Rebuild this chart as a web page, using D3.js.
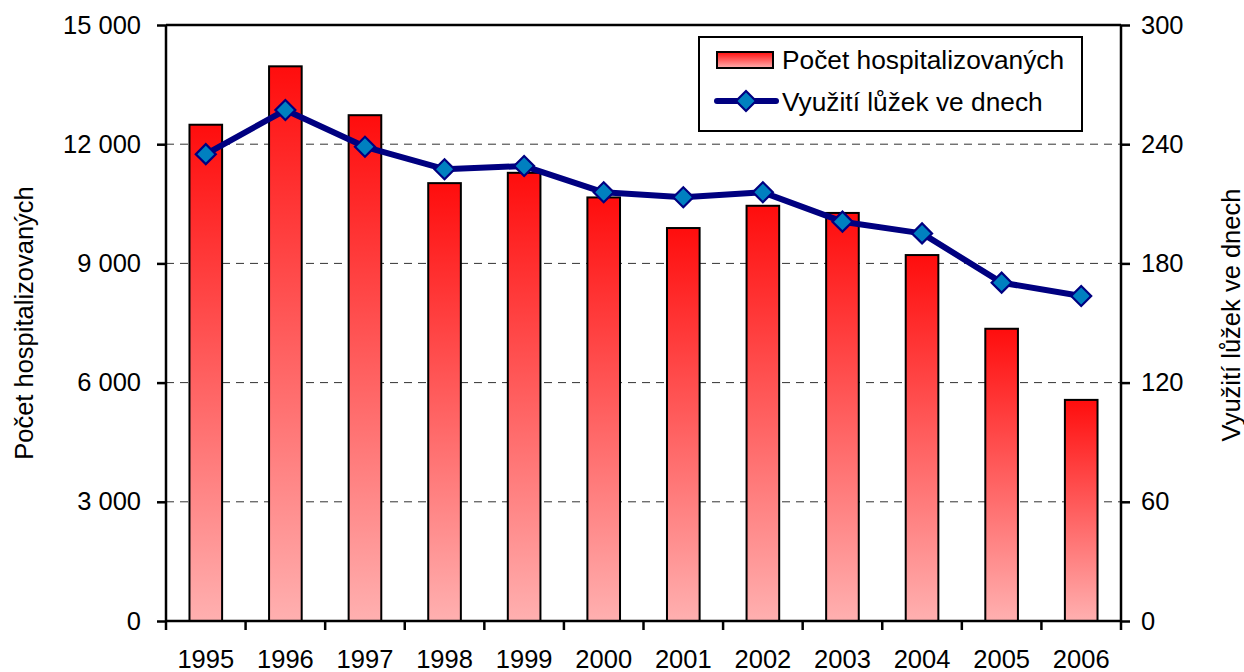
<!DOCTYPE html>
<html><head><meta charset="utf-8">
<script src="https://cdn.jsdelivr.net/npm/d3@7"></script>
<style>body{margin:0;background:#fff}svg{display:block;font-family:"Liberation Sans",Arial,sans-serif}</style>
</head><body><svg id="c" width="1244" height="672"></svg>
<script>
const years = ["1995","1996","1997","1998","1999","2000","2001","2002","2003","2004","2005","2006"];
const hospitalized = [12490, 13960, 12730, 11020, 11280, 10660, 9890, 10450, 10270, 9210, 7355, 5565];
const bedDays = [235, 257.2, 238.7, 227.4, 229, 215.8, 213.3, 215.8, 201, 195.1, 170.3, 163.6];
const leftTicks = [0, 3000, 6000, 9000, 12000, 15000];
const rightTicks = [0, 60, 120, 180, 240, 300];
const seriesNames = ["Počet hospitalizovaných", "Využití lůžek ve dnech"];
const axisTitles = ["Počet hospitalizovaných", "Využití lůžek ve dnech"];

const svg = d3.select("#c");
const L = 166, R = 1121, T = 25, B = 621;
const x = d3.scaleBand().domain(years).range([L, R]).paddingInner(0.59).paddingOuter(0.295);
const xb = d3.scaleBand().domain(years).range([L, R]);
const yL = d3.scaleLinear().domain([0, 15000]).range([B, T]);
const yR = d3.scaleLinear().domain([0, 300]).range([B, T]);
const fmt = d => d3.format(",")(d).replace(/,/g, " ");

const defs = svg.append("defs");
const g = defs.append("linearGradient").attr("id", "bg").attr("x1", 0).attr("y1", 0).attr("x2", 0).attr("y2", 1);
g.append("stop").attr("offset", 0).attr("stop-color", "#ff0d0d");
g.append("stop").attr("offset", 1).attr("stop-color", "#ffb0b0");

// grid
svg.append("g").selectAll("line").data(leftTicks.filter(d => d > 0 && d < 15000)).join("line")
  .attr("x1", L).attr("x2", R).attr("y1", d => yL(d)).attr("y2", d => yL(d))
  .attr("stroke", "#333").attr("stroke-width", 1).attr("stroke-dasharray", "8,6");

// bars
svg.append("g").selectAll("rect").data(years).join("rect")
  .attr("x", d => x(d)).attr("width", x.bandwidth())
  .attr("y", (d, i) => yL(hospitalized[i])).attr("height", (d, i) => B - yL(hospitalized[i]))
  .attr("fill", "url(#bg)").attr("stroke", "#000").attr("stroke-width", 2);

// axes
const fs = 25.5;
const leftAxis = svg.append("g").attr("transform", `translate(${L},0)`)
  .call(d3.axisLeft(yL).tickValues(leftTicks).tickFormat(fmt).tickSize(9).tickPadding(16));
const rightAxis = svg.append("g").attr("transform", `translate(${R},0)`)
  .call(d3.axisRight(yR).tickValues(rightTicks).tickSize(9).tickPadding(11));
const bottomAxis = svg.append("g").attr("transform", `translate(0,${B})`)
  .call(d3.axisBottom(xb).tickSize(0).tickPadding(29));
[leftAxis, rightAxis, bottomAxis].forEach(a => {
  a.attr("font-size", fs).attr("font-family", "Liberation Sans, Arial, sans-serif");
  a.select(".domain").attr("stroke", "#000").attr("stroke-width", 2.5);
  a.selectAll(".tick line").attr("stroke", "#000").attr("stroke-width", 2.5);
  a.selectAll("text").attr("fill", "#000");
});
leftAxis.select(".domain").attr("d", `M0,${B}V${T}`);
rightAxis.select(".domain").attr("d", `M0,${B}V${T}`);
bottomAxis.select(".domain").attr("d", `M${L},0H${R}`);
// category boundary ticks
svg.append("g").selectAll("line").data(d3.range(years.length + 1)).join("line")
  .attr("x1", i => L + i * xb.step()).attr("x2", i => L + i * xb.step())
  .attr("y1", B).attr("y2", B + 9).attr("stroke", "#000").attr("stroke-width", 2.5);
// top border
svg.append("line").attr("x1", L).attr("x2", R).attr("y1", T).attr("y2", T).attr("stroke", "#000").attr("stroke-width", 2.5);

// line
const cx = d => xb(d) + xb.bandwidth() / 2;
svg.append("path").datum(years)
  .attr("d", d3.line().x(d => cx(d)).y((d, i) => yR(bedDays[i])))
  .attr("fill", "none").attr("stroke", "#000080").attr("stroke-width", 6).attr("stroke-linejoin", "round");
const dia = d3.symbol().type(d3.symbolSquare).size(200);
svg.append("g").selectAll("path").data(years).join("path")
  .attr("d", dia)
  .attr("transform", (d, i) => `translate(${cx(d)},${yR(bedDays[i])}) rotate(45)`)
  .attr("fill", "#0080c0").attr("stroke", "#000080").attr("stroke-width", 2.2);

// axis titles
svg.append("text").attr("transform", `translate(33,${(T + B) / 2}) rotate(-90)`)
  .attr("text-anchor", "middle").attr("font-size", fs).text(axisTitles[0]);
svg.append("text").attr("transform", `translate(1240,${(T + B) / 2 - 8}) rotate(-90)`)
  .attr("text-anchor", "middle").attr("font-size", fs).text(axisTitles[1]);

// legend
const lg = svg.append("g");
lg.append("rect").attr("x", 699).attr("y", 37).attr("width", 383).attr("height", 94)
  .attr("fill", "#fff").attr("stroke", "#000").attr("stroke-width", 2);
lg.append("rect").attr("x", 717).attr("y", 52).attr("width", 56).attr("height", 16)
  .attr("fill", "url(#bg)").attr("stroke", "#000").attr("stroke-width", 2);
lg.append("text").attr("x", 782).attr("y", 69).attr("font-size", 26.3).text(seriesNames[0]);
lg.append("line").attr("x1", 717).attr("x2", 776).attr("y1", 101).attr("y2", 101)
  .attr("stroke", "#000080").attr("stroke-width", 6).attr("stroke-linecap", "round");
lg.append("path").attr("d", dia).attr("transform", "translate(746,101) rotate(45)")
  .attr("fill", "#0080c0").attr("stroke", "#000080").attr("stroke-width", 2.2);
lg.append("text").attr("x", 782).attr("y", 111).attr("font-size", 26.3).text(seriesNames[1]);
</script></body></html>
